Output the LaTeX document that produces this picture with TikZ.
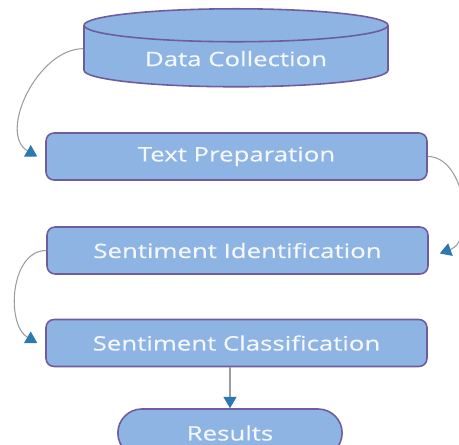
\documentclass[tikz,border=0pt]{standalone}
\usepackage{fontspec}
\setmainfont{Open Sans}[FakeStretch=1.3, FakeBold=0.4]
\usetikzlibrary{shapes.geometric,shapes.misc,arrows.meta}

\definecolor{boxfill}{HTML}{8EB4E3}
\definecolor{boxline}{HTML}{6E5C9E}
\definecolor{boxtext}{HTML}{F4F7FC}
\definecolor{linkgray}{HTML}{9A9CA0}
\definecolor{tipblue}{HTML}{2C78B0}

\tikzset{
  stage/.style={draw=boxline, fill=boxfill, line width=0.9pt, text=boxtext,
    font=\fontsize{11.3}{13}\selectfont, rounded corners=0.16cm,
    minimum width=7.62cm, minimum height=0.94cm},
  store/.style={draw=boxline, fill=boxfill, line width=0.9pt, text=boxtext,
    font=\fontsize{11.3}{13}\selectfont, cylinder, shape border rotate=90,
    aspect=0.17, minimum width=6.08cm, minimum height=1.56cm},
  ending/.style={draw=boxline, fill=boxfill, line width=0.9pt, text=boxtext,
    font=\fontsize{11.3}{13}\selectfont, rounded rectangle,
    minimum width=4.72cm, minimum height=0.96cm},
  link/.style={draw=linkgray, line width=0.6pt,
    -{Triangle[color=tipblue, length=6.5pt, width=7.5pt]}}
}

\begin{document}
\begin{tikzpicture}[x=0.02cm, y=0.02cm]
  \useasboundingbox (0,0) rectangle (459,-445);

  \node[store, anchor=north] (dc) at (236,-8) {Data Collection};
  \node[stage] (tp) at (236.5,-156.5) {Text Preparation};
  \node[stage] (si) at (237.5,-250.5) {Sentiment Identification};
  \node[stage] (sc) at (236.5,-343) {Sentiment Classification};
  \node[ending] (res) at (230,-433) {Results};

  \draw[link] ([yshift=0.2cm]dc.west) to[out=180, in=150] ([xshift=-0.16cm]tp.west);
  \draw[link] (tp.east) to[out=0, in=20] ([xshift=0.22cm, yshift=-0.06cm]si.east);
  \draw[link] (si.west) to[out=180, in=150] ([xshift=-0.16cm]sc.west);
  \draw[link] (sc.south -| res.north) -- (res.north);
\end{tikzpicture}
\end{document}
